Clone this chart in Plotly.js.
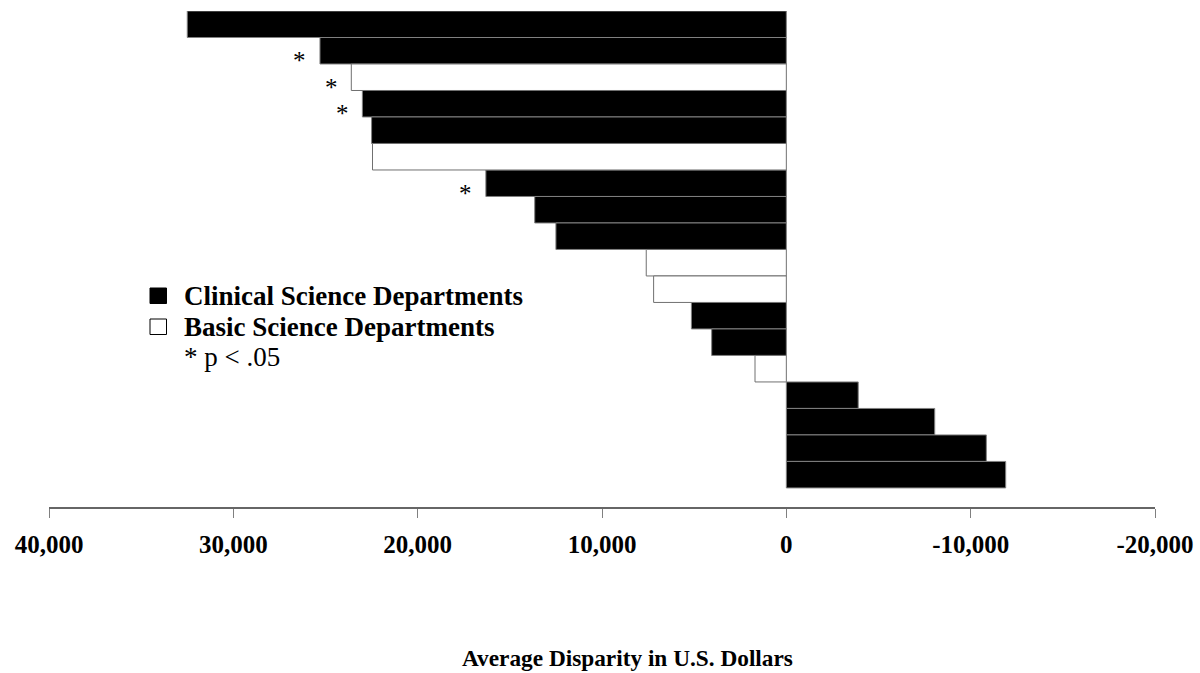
<!DOCTYPE html>
<html>
<head>
<meta charset="utf-8">
<script src="https://cdn.plot.ly/plotly-3.0.1.min.js"></script>
<style>html,body{margin:0;padding:0;background:#fff;}#chart{width:1200px;height:673px;}</style>
</head>
<body>
<div id="chart"></div>
<script>
// Departments, top to bottom
const departments = ['D1','D2','D3','D4','D5','D6','D7','D8','D9','D10','D11','D12','D13','D14','D15','D16','D17','D18'];
// Average disparity (US dollars)
const disparity = [32500, 25300, 23600, 23000, 22500, 22450, 16300, 13650, 12500, 7600, 7200, 5150, 4050, 1700, -3900, -8050, -10850, -11900];
// Department type: C = clinical science, B = basic science
const deptType = ['C','C','B','C','C','B','C','C','C','B','B','C','C','B','C','C','C','C'];
// Significance p < .05
const significant = [false, true, true, true, false, false, true, false, false, false, false, false, false, false, false, false, false, false];
const tickValues = [40000, 30000, 20000, 10000, 0, -10000, -20000];
const tickLabels = ['40,000', '30,000', '20,000', '10,000', '0', '-10,000', '-20,000'];
const seriesNames = ['Clinical Science Departments', 'Basic Science Departments'];

const serif = 'Liberation Serif, Times New Roman, serif';

function pick(type) {
  const y = [], x = [];
  departments.forEach((d, i) => { if (deptType[i] === type) { y.push(d); x.push(disparity[i]); } });
  return {y, x};
}
const c = pick('C'), b = pick('B');

const traces = [
  {type: 'bar', orientation: 'h', name: seriesNames[0], y: c.y, x: c.x, width: 1,
   marker: {color: '#000000', line: {color: '#808080', width: 1}}, hoverinfo: 'x'},
  {type: 'bar', orientation: 'h', name: seriesNames[1], y: b.y, x: b.x, width: 1,
   marker: {color: '#ffffff', line: {color: '#707070', width: 1}}, hoverinfo: 'x'}
];

// paper-coordinate helpers (plot area: x 49..1155, y 11..507)
const px = v => (v - 49) / 1106;
const py = v => (507 - v) / 496;

const annotations = [];
departments.forEach((d, i) => {
  if (significant[i]) {
    annotations.push({x: disparity[i], y: d, xref: 'x', yref: 'y', text: '*', showarrow: false,
      xanchor: 'center', yanchor: 'middle', xshift: -20, yshift: -10,
      font: {family: serif, size: 25, color: '#000000'}});
  }
});
const legendFont = {family: serif, size: 27, color: '#000000'};
annotations.push({xref: 'paper', yref: 'paper', x: px(182), y: py(296), xanchor: 'left', yanchor: 'middle',
  text: '<b>' + seriesNames[0] + '</b>', showarrow: false, font: legendFont});
annotations.push({xref: 'paper', yref: 'paper', x: px(182), y: py(327), xanchor: 'left', yanchor: 'middle',
  text: '<b>' + seriesNames[1] + '</b>', showarrow: false, font: legendFont});
annotations.push({xref: 'paper', yref: 'paper', x: px(182), y: py(357), xanchor: 'left', yanchor: 'middle',
  text: '* p < .05', showarrow: false, font: legendFont});
annotations.push({xref: 'paper', yref: 'paper', x: px(627), y: py(658),
  xanchor: 'center', yanchor: 'middle', text: '<b>Average Disparity in U.S. Dollars</b>', showarrow: false,
  font: {family: serif, size: 23.3, color: '#000000'}});

const shapes = [
  {type: 'rect', xref: 'paper', yref: 'paper', x0: px(150), x1: px(166.5), y0: py(288), y1: py(303.5),
   fillcolor: '#000000', line: {color: '#000000', width: 1}},
  {type: 'rect', xref: 'paper', yref: 'paper', x0: px(150), x1: px(166.5), y0: py(319), y1: py(334.5),
   fillcolor: '#ffffff', line: {color: '#000000', width: 1}}
];

const layout = {
  width: 1200, height: 673,
  margin: {l: 49, r: 45, t: 11, b: 166},
  paper_bgcolor: '#fff', plot_bgcolor: '#fff',
  barmode: 'overlay', bargap: 0,
  showlegend: false,
  xaxis: {range: [40000, -20000], tickmode: 'array', tickvals: tickValues, ticktext: tickLabels,
    showgrid: false, zeroline: false, showline: true, linecolor: '#666', linewidth: 1.5,
    ticks: 'outside', ticklen: 9, tickcolor: '#808080', tickwidth: 1, ticklabelstandoff: 5,
    tickfont: {family: serif, size: 25, color: '#000', weight: 'bold'}},
  yaxis: {type: 'category', categoryorder: 'array', categoryarray: departments,
    range: [18.22, -0.5], showgrid: false, zeroline: false, showline: false,
    showticklabels: false, ticks: ''},
  annotations: annotations,
  shapes: shapes
};

Plotly.newPlot('chart', traces, layout, {displayModeBar: false, staticPlot: true});
</script>
</body>
</html>
